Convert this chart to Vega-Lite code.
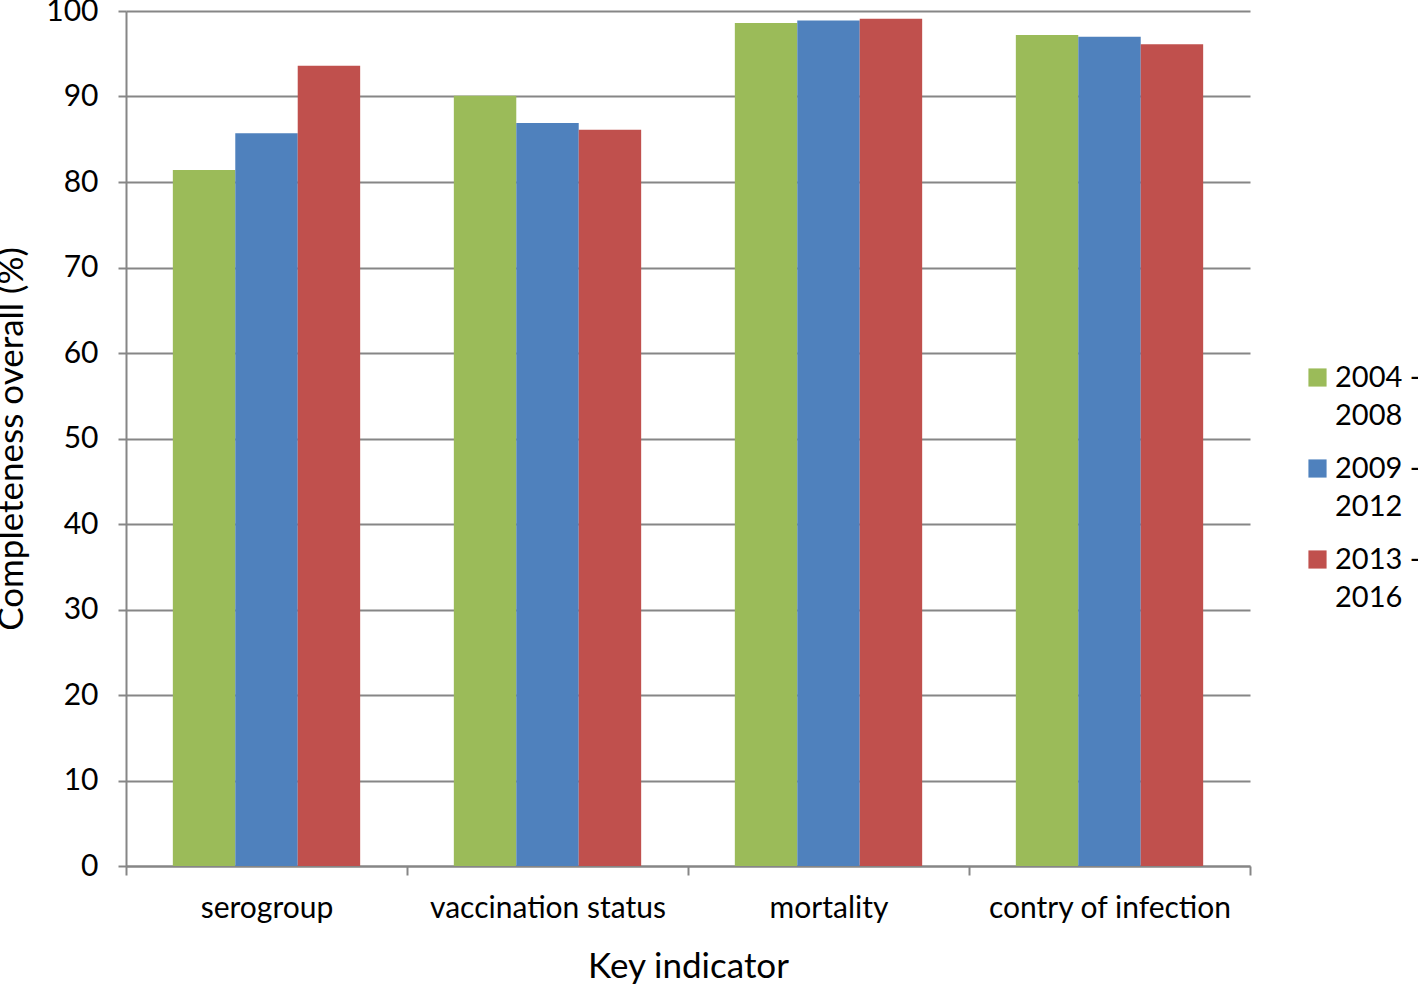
{
  "$schema": "https://vega.github.io/schema/vega-lite/v6.json",
  "autosize": "none",
  "width": 1124,
  "height": 855,
  "padding": {"left": 126, "top": 11, "right": 168, "bottom": 120},
  "background": "white",
  "config": {"view": {"stroke": null}, "font": "Lato", "style": {"guide-label": {"lineHeight": 38}}},
  "data": {"values": [
    {"indicator": "serogroup", "period": "2004 - 2008", "value": 81.4},
    {"indicator": "serogroup", "period": "2009 - 2012", "value": 85.7},
    {"indicator": "serogroup", "period": "2013 - 2016", "value": 93.6},
    {"indicator": "vaccination status", "period": "2004 - 2008", "value": 90.1},
    {"indicator": "vaccination status", "period": "2009 - 2012", "value": 86.9},
    {"indicator": "vaccination status", "period": "2013 - 2016", "value": 86.1},
    {"indicator": "mortality", "period": "2004 - 2008", "value": 98.6},
    {"indicator": "mortality", "period": "2009 - 2012", "value": 98.9},
    {"indicator": "mortality", "period": "2013 - 2016", "value": 99.1},
    {"indicator": "contry of infection", "period": "2004 - 2008", "value": 97.2},
    {"indicator": "contry of infection", "period": "2009 - 2012", "value": 97.0},
    {"indicator": "contry of infection", "period": "2013 - 2016", "value": 96.1}
  ]},
  "mark": {"type": "bar"},
  "encoding": {
    "x": {
      "field": "indicator", "type": "nominal",
      "sort": ["serogroup", "vaccination status", "mortality", "contry of infection"],
      "scale": {"paddingInner": 0, "paddingOuter": 0},
      "axis": {
        "title": "Key indicator", "titleFontSize": 35, "titleFontWeight": "normal", "titleColor": "black", "titlePadding": 26,
        "labelAngle": 0, "labelFontSize": 30, "labelColor": "black", "labelPadding": 18, "labelLimit": 300,
        "tickBand": "extent", "tickColor": "#868686", "tickWidth": 2, "tickSize": 9,
        "domainColor": "#868686", "domainWidth": 2, "grid": false
      }
    },
    "xOffset": {
      "field": "period", "type": "nominal",
      "scale": {"paddingInner": 0, "paddingOuter": 0.75}
    },
    "y": {
      "field": "value", "type": "quantitative",
      "scale": {"domain": [0, 100], "nice": false},
      "axis": {
        "title": "Completeness overall (%)", "titleFontSize": 35, "titleFontWeight": "normal", "titleColor": "black", "titlePadding": 16,
        "values": [0, 10, 20, 30, 40, 50, 60, 70, 80, 90, 100],
        "labelFontSize": 30, "labelColor": "black", "labelPadding": 20,
        "tickColor": "#868686", "tickWidth": 2, "tickSize": 8,
        "domainColor": "#868686", "domainWidth": 2,
        "grid": true, "gridColor": "#868686", "gridWidth": 2
      }
    },
    "color": {
      "field": "period", "type": "nominal",
      "scale": {"range": ["#9BBB59", "#4F81BD", "#C0504D"]},
      "legend": {
        "title": null, "orient": "none", "legendX": 1177, "legendY": 352,
        "symbolType": "square", "symbolSize": 330, "symbolStrokeWidth": 0,
        "labelFontSize": 29, "labelColor": "black",
        "labelExpr": "[substring(datum.label, 0, 6), substring(datum.label, 7)]",
        "labelBaseline": "middle", "rowPadding": 23, "labelLimit": 200, "labelOffset": 3
      }
    }
  }
}
